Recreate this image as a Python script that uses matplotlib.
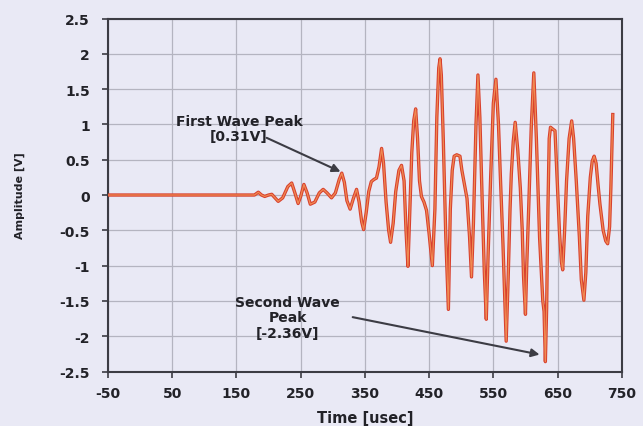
import matplotlib
matplotlib.use("Agg")
import matplotlib.pyplot as plt

# Received waveform: time in microseconds, amplitude in volts
time_us = [-50, 178, 184, 189, 194, 200, 205, 210, 215, 222, 230, 236, 241, 246, 250,
           255, 260, 265, 272, 279, 285, 291, 298, 304, 310, 314, 318, 322, 327, 332,
           337, 341, 345, 348, 352, 356, 360, 364, 368, 372, 376, 379, 383, 387, 390,
           394, 398, 403, 407, 411, 414, 417, 420, 423, 426, 429, 432, 435, 438, 442,
           446, 450, 455, 459, 462, 465, 467, 469, 472, 476, 480, 483, 486, 489, 493,
           498, 501, 505, 509, 513, 516, 519, 523, 526, 529, 533, 536, 539, 542, 546,
           550, 554, 558, 561, 565, 570, 573, 576, 578, 581, 584, 588, 592, 595, 597,
           600, 602, 605, 609, 613, 617, 622, 627, 629, 631, 633, 635, 637, 639, 643,
           646, 649, 653, 656, 658, 661, 664, 668, 672, 675, 679, 684, 687, 691, 694,
           697, 701, 704, 707, 710, 713, 716, 721, 725, 728, 731, 733, 735, 736]
amplitude_v = [0, 0, 0.04, 0.0, -0.02, 0.0, 0.01, -0.04, -0.09, -0.04, 0.12, 0.17, 0.03, -0.12, -0.02,
               0.15, 0.03, -0.13, -0.10, 0.03, 0.08, 0.03, -0.04, 0.03, 0.22, 0.31, 0.18, -0.08, -0.20, -0.05,
               0.08, -0.10, -0.38, -0.49, -0.25, 0.05, 0.19, 0.22, 0.24, 0.40, 0.66, 0.45, -0.10, -0.50, -0.67,
               -0.40, 0.05, 0.35, 0.42, 0.20, -0.50, -1.01, -0.20, 0.60, 1.05, 1.22, 0.80, 0.20, -0.02, -0.10,
               -0.22, -0.55, -1.00, -0.20, 1.10, 1.80, 1.93, 1.70, 0.80, -0.60, -1.62, -0.20, 0.35, 0.55, 0.57,
               0.55, 0.35, 0.15, -0.05, -0.60, -1.16, -0.40, 1.00, 1.70, 1.10, -0.20, -1.10, -1.76, -0.80, 0.30,
               1.30, 1.64, 1.00, 0.25, -0.70, -2.07, -1.20, -0.20, 0.30, 0.76, 1.03, 0.64, 0.10, -0.50, -1.15,
               -1.69, -1.00, -0.20, 0.95, 1.73, 0.80, -0.60, -1.50, -1.65, -2.36, -1.60, -0.20, 0.80, 0.96, 0.93,
               0.91, 0.30, -0.53, -0.95, -1.06, -0.50, 0.20, 0.80, 1.05, 0.80, 0.22, -0.60, -1.20, -1.49, -1.10,
               -0.30, 0.25, 0.48, 0.55, 0.45, 0.15, -0.13, -0.50, -0.65, -0.69, -0.45, 0.10, 0.80, 1.14]

x_ticks = [-50, 50, 150, 250, 350, 450, 550, 650, 750]
y_ticks = [-2.5, -2, -1.5, -1, -0.5, 0, 0.5, 1, 1.5, 2, 2.5]
y_tick_labels = ["-2.5", "-2", "-1.5", "-1", "-0.5", "0", "0.5", "1", "1.5", "2", "2.5"]

first_peak = (314, 0.31)
second_peak = (631, -2.36)

plt.rcParams["font.family"] = ["DejaVu Sans"]
plt.rcParams["font.weight"] = "bold"
plt.rcParams["axes.unicode_minus"] = False

paper = "#e9e9f5"
ink = "#3c3c44"
text_col = "#222228"

fig = plt.figure(figsize=(6.43, 4.27), dpi=100, facecolor=paper)
ax = fig.add_axes([0.168, 0.1276, 0.799, 0.8267], facecolor=paper)

ax.set_xlim(-50, 750)
ax.set_ylim(-2.5, 2.5)
ax.set_xticks(x_ticks)
ax.set_yticks(y_ticks)
ax.set_yticklabels(y_tick_labels)
ax.grid(True, color="#b4b4c0", linewidth=0.9)
ax.set_axisbelow(True)

for side in ax.spines.values():
    side.set_color(ink)
    side.set_linewidth(1.5)

ax.tick_params(axis="both", direction="out", length=4.5, width=1.2, color=ink,
               labelsize=10, labelcolor=text_col)
ax.tick_params(axis="y", pad=8.5)
ax.tick_params(axis="x", pad=6)

# trace: red body with a lighter orange core
ax.plot(time_us, amplitude_v, color="#d8402e", linewidth=2.4, solid_joinstyle="round", zorder=3)
ax.plot(time_us, amplitude_v, color="#f08a52", linewidth=0.9, solid_joinstyle="round", zorder=4)

ax.set_xlabel("Time [usec]", fontsize=10.5, fontweight="bold", color=text_col, va="center")
ax.xaxis.set_label_coords(0.5, -0.129)
ax.set_ylabel("Amplitude [V]", fontsize=8, fontweight="bold", color=text_col, va="center")
ax.yaxis.set_label_coords(-0.171, 0.5)

arrow = dict(arrowstyle="-|>", color=ink, lw=1.5, mutation_scale=12, shrinkA=0, shrinkB=0)

ax.text(154, 0.94, "First Wave Peak\n[0.31V]", ha="center", va="center",
        fontsize=10, fontweight="bold", color=text_col, linespacing=1.15, zorder=5)
ax.annotate("", xy=(first_peak[0] - 2, first_peak[1] + 0.02), xytext=(197, 0.81),
            arrowprops=arrow, zorder=5)

ax.text(230, -1.73, "Second Wave\nPeak\n[-2.36V]", ha="center", va="center",
        fontsize=10, fontweight="bold", color=text_col, linespacing=1.15, zorder=5)
ax.annotate("", xy=(second_peak[0] - 9, second_peak[1] + 0.1), xytext=(331, -1.73),
            arrowprops=arrow, zorder=5)

fig.savefig("out.png", dpi=100, facecolor=paper)
